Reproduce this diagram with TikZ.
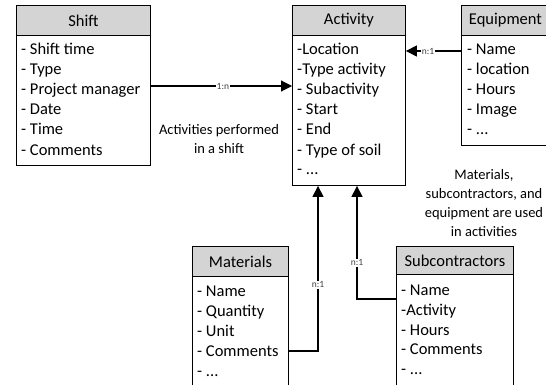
\documentclass[tikz,border=0pt]{standalone}
\usepackage{fontspec}
\setmainfont{Carlito}
\usetikzlibrary{arrows.meta}
\definecolor{hdr}{RGB}{212,212,212}
\newcommand\myellip{...}
\begin{document}
\begin{tikzpicture}[x=1pt,y=-1pt,
 hdrbox/.style={draw, fill=hdr, line width=0.9pt, anchor=north west, inner sep=0pt, font=\fontsize{16.5}{18}\selectfont},
 bodybox/.style={draw, line width=0.9pt, anchor=north west, inner sep=0pt},
 item/.style={anchor=base west, inner sep=0pt, font=\fontsize{16.5}{18}\selectfont},
 conn/.style={line width=1.1pt, -{Triangle[length=11pt,width=11pt]}},
 lbl/.style={fill=white, inner sep=1pt, font=\fontsize{9.5}{10}\selectfont, text=black!75},
 note/.style={align=center, font=\fontsize{14.5}{18.7}\selectfont}]
\useasboundingbox (0,0) rectangle (546,385);
\clip (0,0) rectangle (546,385);
\fill[white] (0,0) rectangle (546,385);

% Shift
\node[bodybox, minimum width=134pt, minimum height=130pt] (shiftb) at (16,35) {};
\node[hdrbox, minimum width=134pt, minimum height=30pt] (shifth) at (16,5) {Shift};
\foreach \t [count=\i] in {- Shift time,- Type,- Project manager,- Date,- Time,- Comments}
  \node[item] (sh\i) at (21,{35+20*\i}) {\t};

% Activity
\node[bodybox, minimum width=113pt, minimum height=150pt] (actb) at (292,35) {};
\node[hdrbox, minimum width=113pt, minimum height=30pt] (acth) at (292,5) {Activity};
\foreach \t [count=\i] in {-Location,-Type activity,- Subactivity,- Start,- End,- Type of soil,- \myellip}
  \node[item] (ac\i) at (297,{35+20*\i}) {\t};

% Equipment
\node[bodybox, minimum width=88pt, minimum height=110pt] (eqb) at (461,35) {};
\node[hdrbox, minimum width=88pt, minimum height=30pt] (eqh) at (461,5) {Equipment};
\foreach \t [count=\i] in {- Name,- location,- Hours,- Image,- \myellip}
  \node[item] (eq\i) at (467,{35+20*\i}) {\t};

% Materials
\node[bodybox, minimum width=96pt, minimum height=130pt] (matb) at (192,276) {};
\node[hdrbox, minimum width=96pt, minimum height=30pt] (math) at (192,246) {Materials};
\foreach \t [count=\i] in {- Name,- Quantity,- Unit,- Comments,- \myellip}
  \node[item] (ma\i) at (197,{276+20*\i}) {\t};

% Subcontractors
\node[bodybox, minimum width=117pt, minimum height=130pt] (subb) at (396,274) {};
\node[hdrbox, minimum width=117pt, minimum height=28pt] (subh) at (396,246) {Subcontractors};
\foreach \t [count=\i] in {- Name,-Activity,- Hours,- Comments,- \myellip}
  \node[item] (su\i) at (401,{276+19.7*\i}) {\t};

% helper coordinates
\coordinate (yshift) at (0,86);
\coordinate (yeq) at (0,51);
\coordinate (ymat) at (0,351);
\coordinate (ysub) at (0,299);
\coordinate (xmat) at (318,0);
\coordinate (xsub) at (357,0);

% connectors
\draw[conn] (shiftb.east |- yshift) -- node[lbl, pos=0.51] {1:n} (actb.west |- yshift);
\draw[conn] (eqb.west |- yeq) -- node[lbl, pos=0.6] {n:1} (actb.east |- yeq);
\draw[conn] (matb.east |- ymat) -| node[lbl, pos=0.70] {n:1} (actb.south -| xmat);
\draw[conn] (subb.west |- ysub) -| node[lbl, pos=0.66] {n:1} (actb.south -| xsub);

% notes
\node[note] (n1) at (219,139) {Activities performed\\in a shift};
\node[note] (n2) at (484,203) {Materials,\\subcontractors, and\\equipment are used\\in activities};
\end{tikzpicture}
\end{document}
